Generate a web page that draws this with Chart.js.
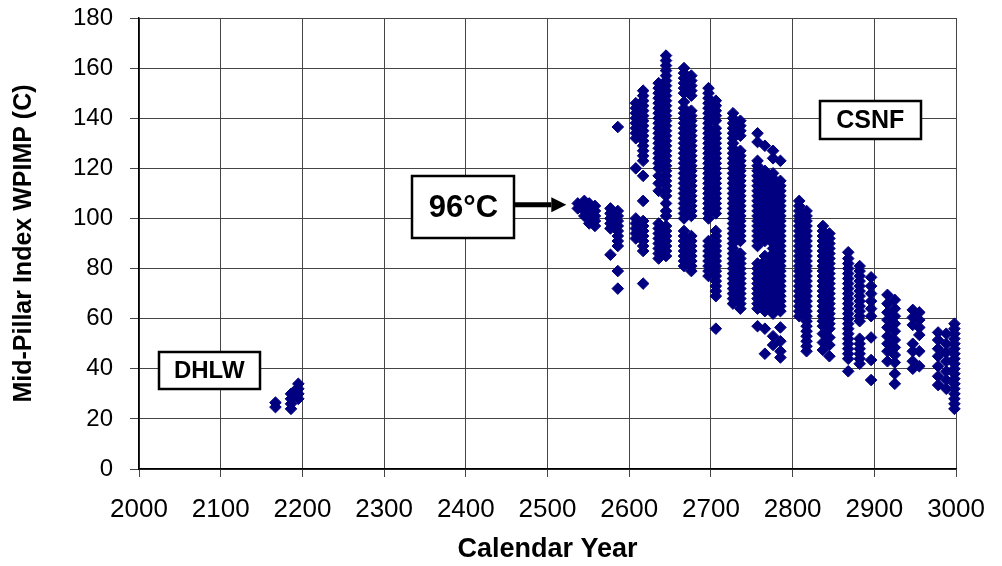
<!DOCTYPE html>
<html>
<head>
<meta charset="utf-8">
<script src="https://cdn.jsdelivr.net/npm/chart.js@4.4.1/dist/chart.umd.min.js"></script>
<style>
  html, body { margin: 0; padding: 0; background: #fff; }
</style>
</head>
<body>
<canvas id="wpimpChart" width="1002" height="566"></canvas>
<script>
// Tick labels
const yearTicks = [2000, 2100, 2200, 2300, 2400, 2500, 2600, 2700, 2800, 2900, 3000];
const tempTicks = [0, 20, 40, 60, 80, 100, 120, 140, 160, 180];

// DHLW waste packages: calendar year of each column and the temperatures in it
const dhlwYears = [2167, 2186, 2190, 2195];
const dhlwTemps = [
    [26.5, 24.7],
    [30, 28, 26, 24],
    [31, 29],
    [34, 32, 30, 28]
];

// CSNF waste packages
const csnfYears = [
    2537, 2545, 2551, 2558, 2577, 2586, 2608, 2617, 2636, 2645,
    2667, 2676, 2697, 2706, 2727, 2736, 2757, 2766, 2776, 2785,
    2808, 2817, 2837, 2845, 2868, 2882, 2896, 2916, 2925, 2947,
    2955, 2978, 2988, 2998
];
const csnfTemps = [
    [106, 104],
    [107, 105, 103, 101],
    [106, 104, 102, 100, 98],
    [105, 103, 101, 99, 97],
    [104, 102, 100, 98, 96, 85.5],
    [136.5, 103, 101, 99, 97, 95, 93, 91, 89, 79, 72],
    [146, 144, 142, 140, 138, 136, 134, 132, 120, 100, 98, 96, 94, 92],
    [151, 149, 147, 145, 143, 141, 139, 137, 135, 133, 131, 129, 127, 125, 123, 117, 107, 99, 97, 95, 93, 91, 89, 87, 74],
    [154, 152, 150, 148, 146, 144, 142, 140, 138, 136, 134, 132, 130, 128, 126, 124, 122, 120, 117, 114, 111, 98, 96, 94, 92, 90, 88, 86, 84],
    [165, 163, 161, 159, 157, 155, 153, 151, 149, 147, 145, 143, 141, 139, 137, 135, 133, 131, 129, 127, 125, 123, 121, 119, 117, 115, 113, 111, 109, 106, 103, 101, 97, 95, 93, 91, 89, 87, 85],
    [160, 158, 156, 154, 152, 150, 146.5, 144, 142, 140, 138, 136, 134, 132, 130, 128, 126, 124, 122, 120, 118, 116, 114, 112, 110, 108, 106, 104, 102, 100, 95, 93, 91, 89, 87, 85, 83, 81],
    [157, 155, 153, 151, 149, 143, 141, 139, 137, 135, 133, 131, 129, 127, 125, 123, 121, 119, 117, 115, 113, 111, 109, 107, 105, 103, 101, 93, 91, 89, 87, 85, 83, 81, 79],
    [152, 150, 148, 146, 144, 142, 140, 138, 136, 134, 132, 130, 128, 126, 124, 122, 120, 118, 116, 114, 112, 110, 108, 106, 104, 102, 100, 91, 89, 87, 85, 83, 81, 79, 77],
    [147, 145, 143, 141, 139, 136, 134, 132, 130, 128, 126, 124, 122, 120, 118, 116, 114, 112, 110, 108, 106, 104, 102, 95, 93, 91, 89, 87, 85, 83, 81, 79, 77, 75, 73, 71, 69, 56],
    [142, 140, 138, 136, 134, 132, 130, 128, 126, 124, 122, 120, 118, 116, 114, 112, 110, 108, 106, 104, 102, 100, 98, 96, 94, 92, 90, 88, 86, 84, 82, 80, 78, 76, 74, 72, 70, 68, 66],
    [139, 137, 135, 133, 127, 125, 123, 121, 119, 117, 115, 113, 111, 109, 107, 105, 103, 101, 99, 97, 95, 93, 91, 86, 84, 82, 80, 78, 76, 74, 72, 70, 68, 66, 64],
    [134, 130.5, 123, 121, 119, 117, 115, 113, 111, 109, 107, 105, 103, 101, 99, 97, 95, 93, 91, 89, 82, 80, 78, 76, 74, 72, 70, 68, 66, 64, 57],
    [129, 119, 117, 115, 113, 111, 109, 107, 105, 103, 101, 99, 97, 95, 93, 91, 85, 83, 81, 79, 77, 75, 73, 71, 69, 67, 65, 63, 56, 46],
    [127, 124, 118, 116, 114, 112, 110, 108, 106, 104, 102, 100, 98, 96, 94, 92, 90, 88, 86, 84, 82, 80, 78, 76, 74, 72, 70, 68, 66, 64, 62, 53, 49.5],
    [123, 115, 113, 111, 109, 107, 105, 103, 101, 99, 97, 95, 93, 91, 89, 87, 85, 83, 81, 79, 77, 75, 73, 71, 69, 67, 65, 63, 56.5, 51, 47, 44.5],
    [107, 105, 103, 101, 99, 97, 95, 93, 91, 89, 87, 85, 83, 81, 79, 77, 75, 73, 71, 69, 67, 65, 63, 61],
    [103, 101, 99, 97, 95, 93, 91, 89, 87, 85, 83, 81, 79, 77, 75, 73, 71, 69, 67, 65, 63, 61, 59, 57, 55, 53, 51, 49, 47],
    [97, 95, 93, 91, 89, 87, 85, 83, 81, 79, 77, 75, 73, 71, 69, 67, 65, 63, 61, 59, 57, 54, 50.5, 47.5],
    [94, 92, 90, 88, 86, 84, 82, 80, 78, 76, 74, 72, 70, 68, 66, 64, 62, 60, 58, 56, 52.5, 49.5, 45],
    [86.5, 84, 82, 80, 78, 76, 74, 72, 70, 68, 66, 64, 62, 60, 58, 56, 54, 52, 50, 48, 46, 44, 39],
    [81, 79, 77, 75, 73, 71, 69, 67, 65, 63, 61, 59, 52, 50, 48, 46, 44, 42],
    [76.5, 73, 70, 67, 64, 61, 52.5, 43.5, 35.5],
    [69.5, 66, 62.5, 59.5, 56.5, 53, 50, 47, 43],
    [67.5, 64, 61, 58, 55, 51.5, 48.5, 45.5, 42.5, 38, 34],
    [63.5, 60.5, 57.5, 50, 47, 43, 40],
    [62.5, 59.5, 56.5, 53.5, 47, 41],
    [54.5, 51.5, 48, 45, 41, 37, 33.5],
    [54, 50, 46.5, 43, 39, 35.5, 32],
    [58, 56, 54, 52, 50, 48, 46, 44, 42, 40, 38, 36, 34, 32, 30, 28, 26, 24]
];

// Flatten year/temperature columns into scatter points
function toPoints(years, temps) {
    const pts = [];
    years.forEach((yr, i) => {
        temps[i].forEach(t => pts.push({ x: yr, y: t }));
    });
    return pts;
}

const FONT = "'Liberation Sans', Arial, sans-serif";
const NAVY = '#000080';

// Labelled boxes, anchored in data units (year, temperature)
const callouts = [
    { text: 'DHLW', year: 2086, temp: 39.4, w: 101, h: 37, size: 24 },
    { text: 'CSNF', year: 2895, temp: 139.2, w: 101, h: 38, size: 25 },
    { text: '96\u00B0C', year: 2397, temp: 104.4, w: 102, h: 62, size: 31, arrowTo: { year: 2523, temp: 105.5 } }
];

const calloutPlugin = {
    id: 'callouts',
    afterDraw(chart) {
        const { ctx, scales: { x, y } } = chart;
        ctx.save();
        callouts.forEach(c => {
            const cx = x.getPixelForValue(c.year);
            const cy = y.getPixelForValue(c.temp);
            const left = Math.round(cx - c.w / 2);
            const top = Math.round(cy - c.h / 2);

            ctx.fillStyle = '#fff';
            ctx.fillRect(left, top, c.w, c.h);
            ctx.strokeStyle = '#000';
            ctx.lineWidth = 2.5;
            ctx.strokeRect(left, top, c.w, c.h);

            ctx.fillStyle = '#000';
            ctx.font = `bold ${c.size}px ${FONT}`;
            ctx.textAlign = 'center';
            ctx.textBaseline = 'middle';
            ctx.fillText(c.text, cx, cy + 1);

            if (c.arrowTo) {
                const tx = x.getPixelForValue(c.arrowTo.year);
                const ty = y.getPixelForValue(c.arrowTo.temp);
                const headLen = 15;
                ctx.beginPath();
                ctx.moveTo(left + c.w + 1, ty);
                ctx.lineTo(tx - headLen, ty);
                ctx.lineWidth = 5;
                ctx.stroke();
                ctx.beginPath();
                ctx.moveTo(tx, ty);
                ctx.lineTo(tx - headLen, ty - 7.5);
                ctx.lineTo(tx - headLen, ty + 7.5);
                ctx.closePath();
                ctx.fill();
            }
        });
        ctx.restore();
    }
};

const pointStyle = {
    pointStyle: 'rectRot',
    pointRadius: 5.8,
    pointBorderWidth: 1,
    backgroundColor: NAVY,
    borderColor: NAVY,
    clip: false
};

new Chart(document.getElementById('wpimpChart'), {
    type: 'scatter',
    data: {
        datasets: [
            Object.assign({ label: 'DHLW', data: toPoints(dhlwYears, dhlwTemps) }, pointStyle),
            Object.assign({ label: 'CSNF', data: toPoints(csnfYears, csnfTemps) }, pointStyle)
        ]
    },
    options: {
        responsive: false,
        animation: false,
        events: [],
        layout: { padding: { top: 18, right: 44, left: 0, bottom: 0 } },
        plugins: {
            legend: { display: false },
            tooltip: { enabled: false }
        },
        scales: {
            x: {
                type: 'linear',
                min: 2000,
                max: 3000,
                afterBuildTicks: s => { s.ticks = yearTicks.map(v => ({ value: v })); },
                afterFit: s => { s.height = 97; },
                ticks: {
                    color: '#000',
                    font: { family: FONT, size: 26 },
                    padding: 17,
                    maxRotation: 0,
                    autoSkip: false,
                    callback: v => String(v)
                },
                grid: { color: '#454545', lineWidth: 1, tickLength: 8 },
                border: { color: '#000', width: 1.5 },
                title: {
                    display: true,
                    text: 'Calendar Year',
                    color: '#000',
                    font: { family: FONT, size: 27, weight: 'bold' },
                    padding: { top: 0, bottom: 0 }
                }
            },
            y: {
                min: 0,
                max: 180,
                afterBuildTicks: s => { s.ticks = tempTicks.map(v => ({ value: v })); },
                afterFit: s => {
                    s.width = 139;
                    s.paddingTop = 0;
                    s.paddingBottom = 0;
                },
                ticks: {
                    color: '#000',
                    font: { family: FONT, size: 24 },
                    padding: 17,
                    callback: v => String(v)
                },
                grid: { color: '#454545', lineWidth: 1, tickLength: 9 },
                border: { color: '#000', width: 1.5 },
                title: {
                    display: true,
                    text: 'Mid-Pillar Index WPIMP (C)',
                    color: '#000',
                    font: { family: FONT, size: 25, weight: 'bold' },
                    padding: { top: 9.5, bottom: 0 }
                }
            }
        }
    },
    plugins: [calloutPlugin]
});
</script>
</body>
</html>
